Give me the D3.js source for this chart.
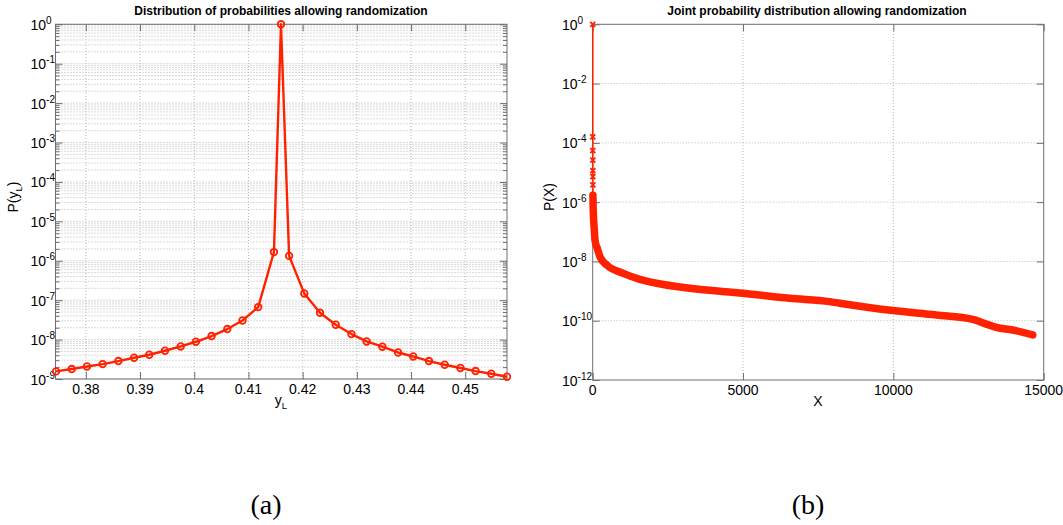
<!DOCTYPE html>
<meta charset="utf-8">
<title>Probability distributions</title>
<style>
  body { margin: 0; background: #fff; }
  text { font-family: "Liberation Sans", Arial, sans-serif; fill: #000; }
</style>
<div id="viz"></div>
<script src="https://cdnjs.cloudflare.com/ajax/libs/d3/7.8.5/d3.min.js"></script>
<script>

// panel (a): distribution of y_L
var yL = [0.3745, 0.3774, 0.3802, 0.3831, 0.3860, 0.3889, 0.3917, 0.3946, 0.3975, 0.4003,
          0.4032, 0.4061, 0.4089, 0.4118, 0.4147, 0.4160, 0.4175, 0.4203, 0.4232, 0.4261,
          0.4290, 0.4318, 0.4347, 0.4376, 0.4404, 0.4433, 0.4462, 0.4491, 0.4519, 0.4548, 0.4577];
var pYL = [1.56e-9, 1.79e-9, 2.08e-9, 2.39e-9, 2.85e-9, 3.46e-9, 4.12e-9, 5.21e-9, 6.70e-9, 8.81e-9,
           1.23e-8, 1.85e-8, 3.05e-8, 6.68e-8, 1.66e-6, 0.9999, 1.33e-6, 1.48e-7, 4.79e-8, 2.38e-8,
           1.38e-8, 8.97e-9, 6.60e-9, 4.71e-9, 3.73e-9, 2.85e-9, 2.30e-9, 1.90e-9, 1.59e-9, 1.36e-9, 1.14e-9];
var xTicksA = [0.38, 0.39, 0.40, 0.41, 0.42, 0.43, 0.44, 0.45];
var expTicksA = [0, -1, -2, -3, -4, -5, -6, -7, -8, -9];

// panel (b): joint distribution, sorted
var jointX = [1, 2, 3, 4, 5, 6, 7, 8, 12, 20, 35, 55, 76, 150, 243, 465, 1017, 1571, 2126, 3232,
              5003, 6554, 7883, 8216, 9986, 11428, 12644, 13089, 13421, 13972, 14637];
var jointP = [0.9998, 1.6e-4, 5.5e-5, 2.6e-5, 1.15e-5, 7.2e-6, 3.8e-6, 1.7e-6, 9e-7, 4.5e-7,
              2.2e-7, 1.1e-7, 5.3e-8, 2.8e-8, 1.44e-8, 7.6e-9, 3.97e-9, 2.49e-9, 1.83e-9, 1.24e-9,
              8.4e-10, 5.7e-10, 4.4e-10, 3.9e-10, 2.2e-10, 1.56e-10, 1.11e-10, 7.7e-11, 6.0e-11, 4.85e-11, 3.3e-11];
var xTicksB = [0, 5000, 10000, 15000];
var expTicksB = [0, -2, -4, -6, -8, -10, -12];

var red = "#ff2200";
var axisColor = "#6e6e6e";

var svg = d3.select("#viz")
    .append("svg")
    .attr("width", 1063)
    .attr("height", 525);

function grid(g, x, y, xs, ys) {
  var r = x.range(), s = y.range();
  g.selectAll(null).data(xs).enter().append("line")
    .attr("x1", d => x(d)).attr("x2", d => x(d))
    .attr("y1", s[0]).attr("y2", s[1]);
  g.selectAll(null).data(ys).enter().append("line")
    .attr("x1", r[0]).attr("x2", r[1])
    .attr("y1", d => y(d)).attr("y2", d => y(d));
  g.selectAll("line")
    .attr("stroke", "#b8b8b8")
    .attr("stroke-dasharray", "1,2");
}

// inward ticks on all four sides
function ticks(g, x, y, xs, ys, len) {
  var r = x.range(), s = y.range();
  var list = [
    [d3.axisBottom(x).tickValues(xs), 0, s[0]],
    [d3.axisTop(x).tickValues(xs), 0, s[1]],
    [d3.axisLeft(y).tickValues(ys), r[0], 0],
    [d3.axisRight(y).tickValues(ys), r[1], 0]
  ];
  list.forEach(function(a) {
    var ax = g.append("g")
      .attr("transform", "translate(" + a[1] + "," + a[2] + ")")
      .call(a[0].tickSizeInner(-len).tickSizeOuter(0).tickFormat(""));
    ax.select(".domain").remove();
    ax.selectAll("line").attr("stroke", axisColor);
  });
}

function labels(g, x, y, xs, exps, fmt, yLabelX) {
  var s = y.range();
  g.selectAll(null).data(xs).enter().append("text")
    .attr("x", d => x(d))
    .attr("y", s[0] + 15)
    .attr("text-anchor", "middle")
    .style("font-size", "14px")
    .text(fmt);
  var t = g.selectAll(null).data(exps).enter().append("text")
    .attr("x", yLabelX)
    .attr("y", d => y(Math.pow(10, d)) + 5.5)
    .style("font-size", "14px")
    .text("10");
  t.append("tspan")
    .attr("dy", -6)
    .style("font-size", "10px")
    .text(d => d);
}

function box(g, x, y) {
  var r = x.range(), s = y.range();
  g.append("rect")
    .attr("x", r[0]).attr("y", s[1])
    .attr("width", r[1] - r[0]).attr("height", s[0] - s[1])
    .attr("fill", "none")
    .attr("stroke", axisColor);
}

// ---------- panel (a) ----------
var xA = d3.scaleLinear().domain([0.3744, 0.4577]).range([55.5, 507]);
var yA = d3.scaleLog().domain([1e-9, 1]).range([379, 24.3]);
var gA = svg.append("g");

var minorA = [];
expTicksA.forEach(function(e) {
  if (e == 0) return;
  for (var k = 2; k <= 9; k++) minorA.push(k * Math.pow(10, e));
});
var majorA = expTicksA.map(e => Math.pow(10, e));

grid(gA.append("g"), xA, yA, xTicksA, majorA.concat(minorA));
ticks(gA, xA, yA, xTicksA, majorA, 7);
ticks(gA, xA, yA, [], minorA, 4);
box(gA, xA, yA);
labels(gA, xA, yA, xTicksA, expTicksA, d => String(+d.toFixed(2)), 30.5);

var ptsA = d3.zip(yL, pYL);
gA.append("path")
  .datum(ptsA)
  .attr("d", d3.line().x(d => xA(d[0])).y(d => yA(d[1])))
  .attr("fill", "none")
  .attr("stroke", red)
  .attr("stroke-width", 2.4)
  .attr("stroke-linejoin", "round");
gA.selectAll("circle").data(ptsA).enter().append("circle")
  .attr("cx", d => xA(d[0]))
  .attr("cy", d => yA(d[1]))
  .attr("r", 3.3)
  .attr("fill", "none")
  .attr("stroke", red)
  .attr("stroke-width", 1.8);

gA.append("text")
  .attr("x", 281).attr("y", 15)
  .attr("text-anchor", "middle")
  .style("font-size", "12px").style("font-weight", "bold")
  .text("Distribution of probabilities allowing randomization");

var xl = gA.append("text")
  .attr("x", 281).attr("y", 405)
  .attr("text-anchor", "middle")
  .style("font-size", "14px")
  .text("y");
xl.append("tspan").attr("dy", 4).style("font-size", "9.5px").text("L");

var yl = gA.append("text")
  .attr("transform", "translate(18,197) rotate(-90)")
  .attr("text-anchor", "middle")
  .style("font-size", "14px")
  .text("P(y");
yl.append("tspan").attr("dy", 4).style("font-size", "9.5px").text("L");
yl.append("tspan").attr("dy", -4).text(")");

// ---------- panel (b) ----------
var xB = d3.scaleLinear().domain([0, 15000]).range([592.7, 1043.7]);
var yB = d3.scaleLog().domain([1e-12, 1]).range([380, 24.3]);
var gB = svg.append("g");
var majorB = expTicksB.map(e => Math.pow(10, e));

grid(gB.append("g"), xB, yB, xTicksB.slice(1, -1), majorB.slice(1, -1));
ticks(gB, xB, yB, xTicksB, majorB, 7);
box(gB, xB, yB);
labels(gB, xB, yB, xTicksB, expTicksB, d => d, 562);

var ptsB = d3.zip(jointX, jointP);
var lineB = d3.line().x(d => xB(d[0])).y(d => yB(d[1]));
gB.append("path")
  .datum(ptsB)
  .attr("d", lineB)
  .attr("fill", "none")
  .attr("stroke", red)
  .attr("stroke-width", 1.5);
// dense markers merge into a thick band
gB.append("path")
  .datum(ptsB.slice(7))
  .attr("d", lineB.curve(d3.curveMonotoneX))
  .attr("fill", "none")
  .attr("stroke", red)
  .attr("stroke-width", 7.5)
  .attr("stroke-linecap", "round")
  .attr("stroke-linejoin", "round");
gB.selectAll(".mk").data(ptsB).enter().append("path")
  .attr("class", "mk")
  .attr("transform", d => "translate(" + xB(d[0]) + "," + yB(d[1]) + ")")
  .attr("d", "M-2.5,-2.5L2.5,2.5M-2.5,2.5L2.5,-2.5")
  .attr("stroke", red)
  .attr("stroke-width", 1.8);

gB.append("text")
  .attr("x", 817).attr("y", 15)
  .attr("text-anchor", "middle")
  .style("font-size", "12px").style("font-weight", "bold")
  .text("Joint probability distribution allowing randomization");

gB.append("text")
  .attr("x", 818).attr("y", 406)
  .attr("text-anchor", "middle")
  .style("font-size", "14px")
  .text("X");

gB.append("text")
  .attr("transform", "translate(554,197) rotate(-90)")
  .attr("text-anchor", "middle")
  .style("font-size", "14px")
  .text("P(X)");

// sub-figure captions
[["(a)", 266], ["(b)", 808]].forEach(function(c) {
  svg.append("text")
    .attr("x", c[1]).attr("y", 514)
    .attr("text-anchor", "middle")
    .style("font-family", "'Liberation Serif', 'DejaVu Serif', serif")
    .style("font-size", "28px")
    .text(c[0]);
});

</script>
